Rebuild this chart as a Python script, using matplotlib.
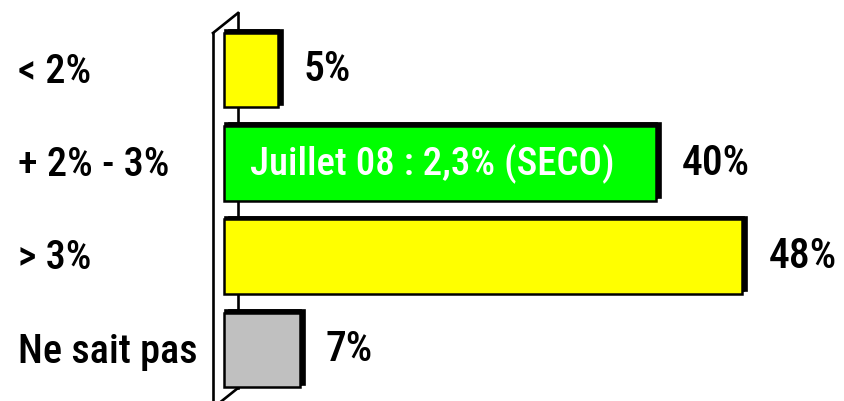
import matplotlib
matplotlib.use('Agg')
import matplotlib.pyplot as plt

plt.rcParams['font.family'] = ['Roboto Condensed', 'Barlow Semi Condensed',
                               'Archivo Narrow', 'DejaVu Sans']

categories = ['< 2%', '+ 2% - 3%', '> 3%', 'Ne sait pas']
values = [5, 40, 48, 7]
colors = ['#ffff00', '#00ff00', '#ffff00', '#c0c0c0']
note = 'Juillet 08 : 2,3% (SECO)'

W, H = 844, 401
fig = plt.figure(figsize=(W / 100, H / 100), dpi=100)
ax = fig.add_axes([0, 0, 1, 1])
pxx = 10.8   # pixels per percent
pxy = 93.3   # pixels per category
x0, y0 = 224, 70
ax.set_xlim(-x0 / pxx, (W - x0) / pxx)
ax.set_ylim((H - y0) / pxy, -y0 / pxy)
ax.axis('off')


def px(p):
    return (p - x0) / pxx


def py(p):
    return (p - y0) / pxy


# 3D wall behind the bars
wall = [((213, 33), (213, 410)), ((213, 33), (238, 13)),
        ((238, 13), (238, 388)), ((238, 388), (213, 408))]
for a, b in wall:
    ax.plot([px(a[0]), px(b[0])], [py(a[1]), py(b[1])], color='black',
            lw=1.9, zorder=1, clip_on=False, solid_capstyle='projecting')

ypos = list(range(len(categories)))
h = 0.80
dx = 5 / pxx
dy = 2.5 / pxy
# depth shadow
ax.barh([y - dy for y in ypos], values, left=dx, height=h,
        color='black', edgecolor='black', linewidth=1.2, zorder=2)
ax.barh([y - dy for y in ypos], values, left=dx * 0.3, height=h,
        color='black', edgecolor='black', linewidth=1.2, zorder=2)
ax.barh(ypos, values, height=h, color=colors, edgecolor='black',
        linewidth=1.8, zorder=3)

for y, c, v in zip(ypos, categories, values):
    ax.text(18 / W, y + 0.02, c, transform=ax.get_yaxis_transform(), ha='left',
            va='center', fontsize=29, fontweight='medium')
    ax.text(v + 26 / pxx, y, '%d%%' % v, ha='left', va='center',
            fontsize=30, fontweight='medium')

ax.text(values[1] / 2 - 0.7, ypos[1], note, ha='center', va='center',
        fontsize=28, fontweight='medium', color='white', zorder=4)

fig.savefig('out.png', dpi=100)
